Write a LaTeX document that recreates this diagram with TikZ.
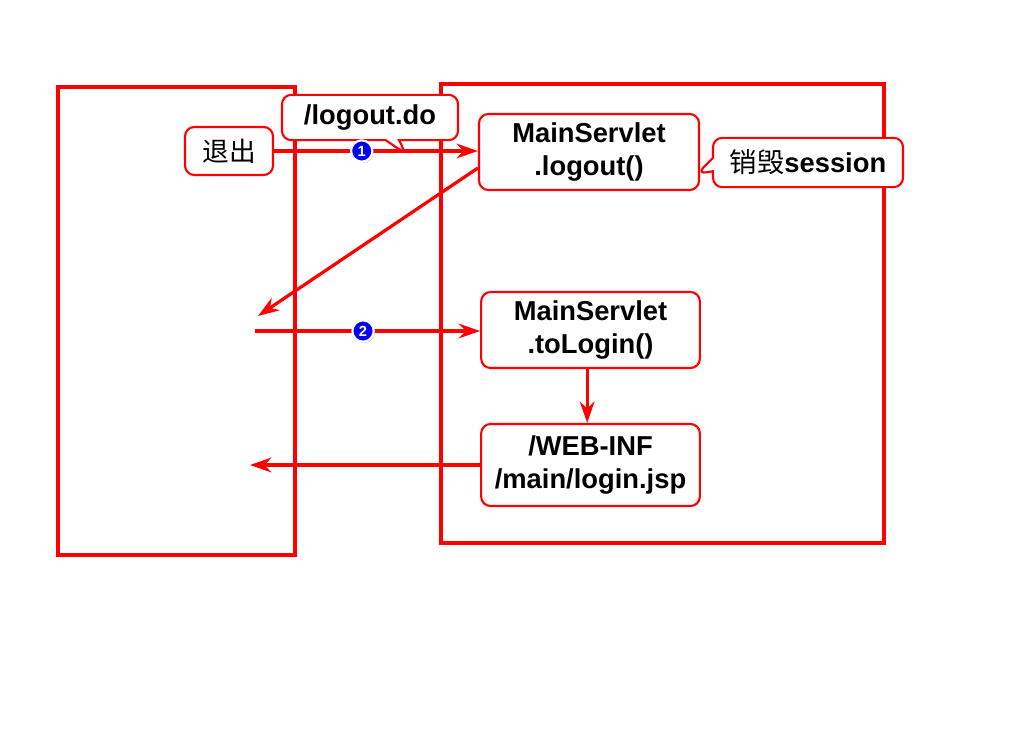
\documentclass[tikz,border=0pt]{standalone}
\usepackage{fontspec}
\setmainfont{Liberation Sans}
\newfontfamily\cjk{Noto Sans CJK SC}
\usetikzlibrary{arrows.meta,shapes.callouts,shadows}

\tikzset{
  frame/.style={draw=red,line width=2.3pt},
  box/.style={draw=red,line width=1.6pt,rounded corners=7pt,fill=white,
    align=center,inner sep=0pt,font=\bfseries\fontsize{20.5}{25}\selectfont},
  note/.style={box,rectangle callout,callout pointer width=10pt},
  flow/.style={draw=red,line width=2.4pt,-{Stealth[length=16pt,width=11pt]}},
  badge/.style={circle,fill=blue,draw=white,line width=1.6pt,text=white,
    inner sep=0pt,minimum size=16pt,font=\bfseries\fontsize{11}{11}\selectfont,
    drop shadow={shadow xshift=1pt,shadow yshift=-1pt,opacity=0.4}}
}

\begin{document}
\begin{tikzpicture}[x=0.75pt,y=-0.75pt]
  \useasboundingbox (0,0) rectangle (1024,728);

  % browser and server
  \draw[frame] (58,87) rectangle (295,555);
  \draw[frame] (441,84) rectangle (884,543);

  % boxes
  \node[box,minimum width=66pt,minimum height=36pt] (quit) at (229,151) {\cjk\mdseries\fontsize{20}{20}\selectfont 退出};
  \node[note,minimum width=132pt,minimum height=34pt,
        callout absolute pointer={(406,154)}] (url) at (370,117.5) {/logout.do};
  \node[box,minimum width=165pt,minimum height=57pt] (logout) at (589,152) {MainServlet\\.logout()};
  \node[note,minimum width=142.5pt,minimum height=37pt,
        callout absolute pointer={(697,174)}] (kill) at (808,162.5) {{\cjk\mdseries 销毁}session};
  \node[box,minimum width=164pt,minimum height=57pt] (tologin) at (590.5,330) {MainServlet\\.toLogin()};
  \node[box,minimum width=164pt,minimum height=61.5pt] (jsp) at (590.5,465) {/WEB-INF\\/main/login.jsp};

  % loose ends in the browser
  \coordinate (back1) at (258,316);
  \coordinate (start2) at (255,331);
  \coordinate (back2) at (250,466);

  % connectors
  \draw[flow] (quit.east) -- node[badge,pos=0.43] {1} (quit.east -| logout.west);
  \draw[flow] ([yshift=-12pt]logout.west) -- (back1);
  \draw[flow] (start2) -- node[badge,pos=0.48] {2} (start2 -| tologin.west);
  \draw[flow] ([xshift=-2.5pt]tologin.south) -- ([xshift=-2.5pt]jsp.north);
  \draw[flow] (jsp.west) -- (jsp.west -| back2);
\end{tikzpicture}
\end{document}
